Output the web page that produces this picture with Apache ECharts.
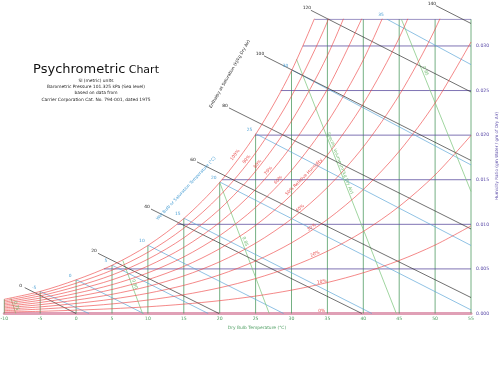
<!DOCTYPE html>
<html><head><meta charset="utf-8">
<script src="https://cdn.jsdelivr.net/npm/echarts@6/dist/echarts.min.js"></script>
<style>html,body{margin:0;padding:0;background:#fff}#c{width:500px;height:366px}</style>
</head><body><div id="c"></div>
<script>
// ---------------- DATA ----------------
const dryBulb = [-10,-5,0,5,10,15,20,25,30,35,40,45,50,55];
const rhLevels = [10,20,30,40,50,60,70,80,90,100];
const rh10  = [0.000160,0.000247,0.000375,0.000536,0.000755,0.001049,0.001439,0.001952,0.002618,0.003474,0.004566,0.005945,0.007675,0.009827];
const rh20  = [0.000319,0.000493,0.000751,0.001073,0.001511,0.002101,0.002885,0.003916,0.005257,0.006987,0.009199,0.012006,0.015541,0.019970];
const rh30  = [0.000479,0.000740,0.001128,0.001611,0.002270,0.003157,0.004337,0.005892,0.007920,0.010540,0.013902,0.018184,0.023607,0.030444];
const rh40  = [0.000638,0.000987,0.001504,0.002150,0.003030,0.004216,0.005797,0.007881,0.010605,0.014134,0.018675,0.024484,0.031880,0.041265];
const rh50  = [0.000798,0.001235,0.001881,0.002690,0.003792,0.005279,0.007263,0.009883,0.013312,0.017768,0.023520,0.030909,0.040367];
const rh60  = [0.000958,0.001482,0.002259,0.003230,0.004556,0.006346,0.008736,0.011897,0.016043,0.021444,0.028439,0.037464];
const rh70  = [0.001117,0.001731,0.002637,0.003772,0.005322,0.007416,0.010216,0.013924,0.018798,0.025163,0.033434];
const rh80  = [0.001277,0.001979,0.003016,0.004314,0.006090,0.008490,0.011703,0.015964,0.021577,0.028925,0.038506];
const rh90  = [0.001437,0.002228,0.003395,0.004858,0.006859,0.009568,0.013197,0.018018,0.024380,0.032731,0.043657];
const rh100 = [0.001597,0.002475,0.003774,0.005402,0.007630,0.010649,0.014697,0.020084,0.027207,0.036581];

// top of each dry-bulb line (saturation or chart top)
const dbTop = [0.0016,0.00247,0.00377,0.0054,0.0076,0.01065,0.0147,0.0201,0.0272,0.033,0.033,0.033,0.033,0.033];

// humidity-ratio lines and the dew point where each starts
const wRatios   = [0.005,0.010,0.015,0.020,0.025,0.030,0.033];
const wDewPoint = [3.86,14.1,20.3,24.9,28.5,31.6,33.2];
const yTickLabels = ['0.000','0.005','0.010','0.015','0.020','0.025','0.030'];

// wet-bulb lines
const wbTemps = [-5,0,5,10,15,20,25,30,35];
const wbStart = [[-5,0.00247],[0,0.00379],[5,0.00542],[10,0.00766],[15,0.01069],[20,0.01475],[25,0.02017],[30,0.02733],[43.3,0.033]];
const wbEnd   = [[1.8,0],[9.4,0],[18.4,0],[28.9,0],[41.2,0],[55,0.0004],[55,0.00763],[55,0.01666],[55,0.02791]];

// enthalpy lines (kJ/kg dry air)
const enthalpies = [0,20,40,60,80,100,120,140];
const enthStart = [[-7.16,0.0029],[3.05,0.00675],[10.43,0.01171],[16.84,0.0170],[21.3,0.02305],[26.17,0.02889],[32.7,0.0340],[50.1,0.03453]];
const enthEnd   = [[0,0],[19.9,0],[39.8,0],[55,0.00179],[55,0.00948],[55,0.01716],[55,0.02484],[55,0.03252]];

// specific volume lines (m3/kg dry air)
const volumes  = ['0.75','0.80','0.85','0.90','0.95'];
const volStart = [[-9.1,0.00175],[6.5,0.00596],[20.0,0.0147],[30.7,0.0285],[45.3,0.033]];
const volEnd   = [[-8.4,0],[9.25,0],[26.9,0],[44.6,0],[55,0.01368]];

// ---------------- LAYOUT / STYLE ----------------
const FONT = '"DejaVu Sans", sans-serif';
const C = {
  rh: 'rgba(238,70,70,0.8)', rhText: '#e84a4a',
  db: 'rgba(70,150,90,0.75)', dbText: '#4f9f63',
  w: 'rgba(95,80,160,0.8)', wText: '#5a4aa8',
  wb: 'rgba(90,165,215,0.85)', wbText: '#4a9fd4',
  h: 'rgba(45,45,45,0.85)', hText: '#222',
  v: 'rgba(130,200,130,0.85)', vText: '#6cba6c',
  axis: '#e0a0b6'
};

const chart = echarts.init(document.getElementById('c'), null, {renderer: 'canvas'});
const series = [];
function addLine(pts, color, width, extra) {
  series.push(Object.assign({
    type: 'line', data: pts, showSymbol: false, symbol: 'none', silent: true,
    animation: false, lineStyle: {color: color, width: width}, clip: true, z: 2
  }, extra || {}));
}

// dry bulb verticals
dryBulb.forEach((t, i) => addLine([[t, 0], [t, dbTop[i]]], C.db, 1));
// humidity ratio horizontals
wRatios.forEach((w, i) => addLine([[wDewPoint[i], w], [55, w]], C.w, 1));
// wet bulb
wbTemps.forEach((t, i) => addLine([wbStart[i], wbEnd[i]], C.wb, 0.8));
// specific volume
volumes.forEach((v, i) => addLine([volStart[i], volEnd[i]], C.v, 0.9));
// enthalpy
enthalpies.forEach((h, i) => addLine([enthStart[i], enthEnd[i]], C.h, 0.8, {clip: false}));
// relative humidity curves
[rh10,rh20,rh30,rh40,rh50,rh60,rh70,rh80,rh90,rh100].forEach(arr => {
  addLine(arr.map((w, i) => [dryBulb[i], w]), C.rh, 0.8, {smooth: 0.3, z: 3});
});

chart.setOption({
  animation: false,
  grid: {left: 4.3, right: 29, top: 19.2, bottom: 52.5, containLabel: false, outerBoundsMode: 'none'},
  xAxis: {
    type: 'value', min: -10, max: 55, interval: 5,
    axisLine: {show: true, lineStyle: {color: C.axis, width: 3}},
    axisTick: {show: false}, splitLine: {show: false},
    axisLabel: {color: C.dbText, fontSize: 4.6, fontFamily: FONT, margin: 3}
  },
  yAxis: {
    type: 'value', position: 'right', min: 0, max: 0.033, interval: 0.005,
    axisLine: {show: false}, axisTick: {show: false}, splitLine: {show: false},
    axisLabel: {
      color: C.wText, fontSize: 4.6, fontFamily: FONT, margin: 5,
      formatter: v => {
        const k = Math.round(v / 0.005);
        if (Math.abs(v - k * 0.005) > 1e-7) return '';
        return yTickLabels[k] || '';
      }
    }
  },
  series: series
});

// ---------------- annotations ----------------
const P = p => chart.convertToPixel({gridIndex: 0}, p);
const g = [];
function txt(s, x, y, color, size, rotDeg, extra) {
  g.push({
    type: 'text', x: x, y: y, rotation: (rotDeg || 0) * Math.PI / 180, silent: true, z: 10,
    style: Object.assign({text: s, fill: color, font: size + 'px ' + FONT, align: 'center', verticalAlign: 'middle'}, extra || {})
  });
}

// title block
g.push({type: 'text', x: 96, y: 70, silent: true, style: {
  text: '{a|Psychrometric} {b|Chart}', align: 'center', verticalAlign: 'middle', fill: '#111',
  rich: {a: {fontSize: 13, fontFamily: FONT, fill: '#111'}, b: {fontSize: 11, fontFamily: FONT, fill: '#111'}}
}});
txt('SI (metric) units', 96, 80.7, '#222', 4.4);
txt('Barometric Pressure 101.325 kPa (Sea level)', 96, 87.3, '#222', 4.4);
txt('based on data from', 96, 93.3, '#222', 4.4);
txt('Carrier Corporation Cat. No. 794-001, dated 1975', 96, 100.3, '#222', 4.4);

// axis names
txt('Dry Bulb Temperature (\u00B0C)', 257, 328, C.dbText, 4.4);
txt('Humidity Ratio (gm Water / gm of Dry Air)', 497, 156, C.wText, 4.2, 90);

// RH labels
const rhLabelPos = [[321.7,281.7,12],[315,254,23],[311.7,227.3,33],[300,208.3,41],[304,177,45],[278.3,180,46],[268.3,170.7,50],[257.7,164,51],[246.7,159.3,50],[235,155,53]];
rhLevels.forEach((r, i) => {
  const p = rhLabelPos[i];
  txt(r === 50 ? '50% Relative Humidity' : r + '%', p[0], p[1], C.rhText, 4.4, p[2]);
});
txt('0%', 321.7, 310.7, C.rhText, 4.4, 0);

// wet bulb labels
wbTemps.forEach((t, i) => {
  const p = P(wbStart[i]);
  txt(String(t), p[0] - 6, p[1] - 4, C.wbText, 4.4, 0);
});
txt('Wet Bulb or Saturation Temperature (\u00B0C)', 186, 188.5, C.wbText, 4.2, 47);

// enthalpy labels
enthalpies.forEach((h, i) => {
  const p = P(enthStart[i]);
  txt(String(h), p[0] - 4, p[1] - 2, C.hText, 4.4, 0);
});
txt('Enthalpy at Saturation (kJ/kg Dry Air)', 229.7, 74, C.hText, 4.2, 60);

// specific volume labels
const volFrac = [0.5, 0.45, 0.45, 0.45, 0.3];
volumes.forEach((v, i) => {
  const a = P(volStart[i]), b = P(volEnd[i]);
  const f = volFrac[i];
  const ang = Math.atan2(b[1] - a[1], b[0] - a[0]) * 180 / Math.PI;
  const x = a[0] + (b[0] - a[0]) * f + 3, y = a[1] + (b[1] - a[1]) * f;
  if (v === '0.90') {
    txt('Specific Volume (m\u00B3/kg Dry Air)', 340, 163, C.vText, 4.2, -ang);
  } else {
    txt(v, x, y, C.vText, 4.4, -ang);
  }
});

chart.setOption({graphic: g});
</script>
</body></html>
